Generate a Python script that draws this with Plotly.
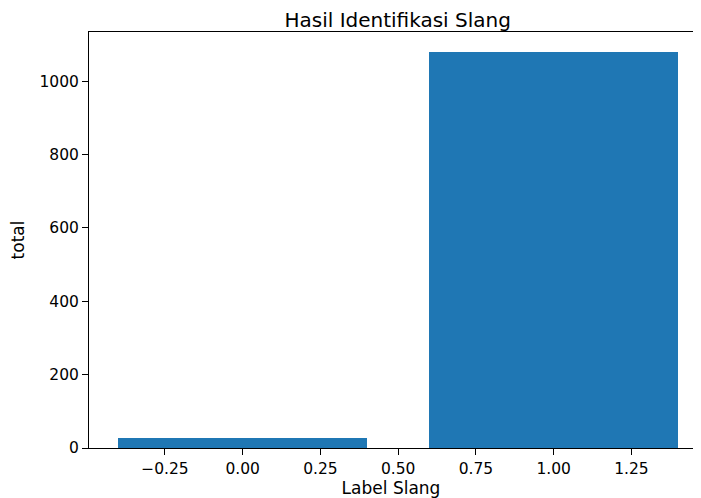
import plotly.graph_objects as go

label_slang = [0, 1]
total = [26, 1080]
x_tick_vals = [-0.25, 0.0, 0.25, 0.5, 0.75, 1.0, 1.25]
x_tick_text = ["\u22120.25", "0.00", "0.25", "0.50", "0.75", "1.00", "1.25"]
y_tick_vals = [0, 200, 400, 600, 800, 1000]

font_family = "DejaVu Sans"
W, H = 685, 490

fig = go.Figure()
fig.add_trace(go.Bar(
    x=label_slang, y=total, width=0.8,
    marker=dict(color="#1f77b4", line=dict(width=0)),
))

fig.update_layout(
    width=W, height=H,
    margin=dict(l=81, r=0, t=24, b=50),
    paper_bgcolor="white", plot_bgcolor="white",
    font=dict(family=font_family, size=15.5, color="black"),
    showlegend=False,
    bargap=0,
    title=dict(text="Hasil Identifikasi Slang", x=(397.7 - 8) / W, xanchor="center",
               y=1 - 12 / H, yanchor="middle", font=dict(size=20, color="black")),
)

fig.update_xaxes(
    range=[-0.494, 1.448],
    tickmode="array", tickvals=x_tick_vals, ticktext=x_tick_text,
    showgrid=False, zeroline=False,
    showline=True, linecolor="black", linewidth=1, mirror=True,
    ticks="outside", ticklen=6, tickwidth=1, tickcolor="black",
    tickfont=dict(size=15.5),
    title=dict(text="Label Slang", font=dict(size=17), standoff=2),
)
fig.update_yaxes(
    range=[0, 1134],
    tickmode="array", tickvals=y_tick_vals,
    showgrid=False, zeroline=False,
    showline=True, linecolor="black", linewidth=1, mirror=False,
    ticks="outside", ticklen=6, tickwidth=1, tickcolor="black",
    tickfont=dict(size=15.5),
    title=dict(text="total", font=dict(size=17), standoff=15),
)

fig.write_html("out.html")
